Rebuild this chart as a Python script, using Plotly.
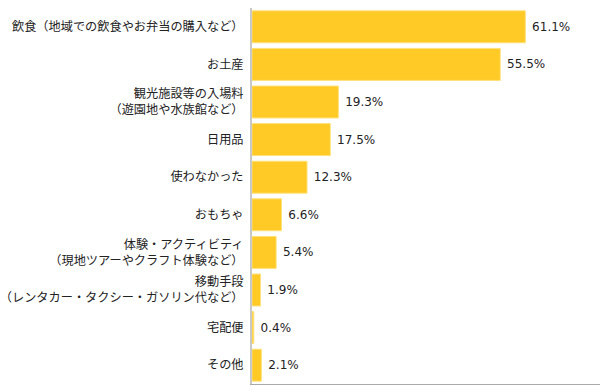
import plotly.graph_objects as go

categories = [
    "飲食（地域での飲食やお弁当の購入など）",
    "お土産",
    "観光施設等の入場料<br>（遊園地や水族館など）",
    "日用品",
    "使わなかった",
    "おもちゃ",
    "体験・アクティビティ<br>（現地ツアーやクラフト体験など）",
    "移動手段<br>（レンタカー・タクシー・ガソリン代など）",
    "宅配便",
    "その他",
]
values = [61.1, 55.5, 19.3, 17.5, 12.3, 6.6, 5.4, 1.9, 0.4, 2.1]
labels = [f"\u00a0{v}%" for v in values]

font = "Noto Sans CJK JP, sans-serif"

fig = go.Figure(go.Bar(
    y=categories,
    x=values,
    orientation="h",
    text=labels,
    textposition="outside",
    cliponaxis=False,
    textfont=dict(family="DejaVu Sans, sans-serif", size=12, color="#222222"),
    marker=dict(color="#FFC926", line=dict(color="#FFE17A", width=1)),
))

fig.update_layout(
    width=600, height=392,
    margin=dict(l=252, r=0, t=8, b=8, autoexpand=False),
    paper_bgcolor="white", plot_bgcolor="white",
    bargap=0.15,
    showlegend=False,
    font=dict(family=font, size=12.2, color="#222222"),
    xaxis=dict(range=[0, 77.8], showgrid=False, zeroline=False, showticklabels=False,
               ticks="", showline=True, linecolor="#aaaaaa", linewidth=1, automargin=False),
    yaxis=dict(autorange="reversed", showgrid=False, zeroline=False, ticks="",
               showline=True, linecolor="#c8c8c8", linewidth=2, automargin=False,
               ticklabelstandoff=4, tickfont=dict(family=font, size=12.2, color="#222222")),
)

# remove the page's default body margin so the figure fills the window
fig.write_html("out.html", config={"displayModeBar": False},
               post_script="document.body.style.margin='0';")
